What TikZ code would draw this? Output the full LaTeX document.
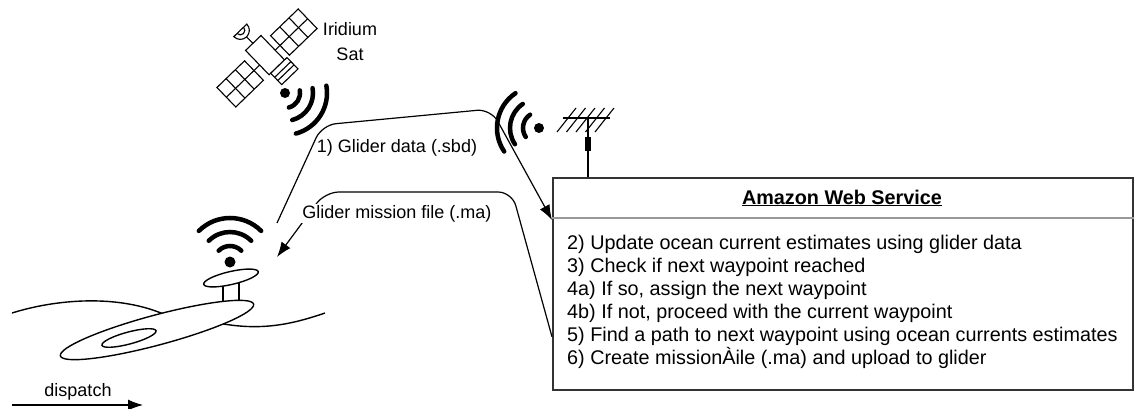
\documentclass[tikz,border=0pt]{standalone}
\usepackage{fontspec}
\setmainfont{Liberation Sans}
\usetikzlibrary{arrows.meta,calc,positioning}

\tikzset{
  link/.style={line width=1.2pt, rounded corners=14pt},
  tip/.style={-{Latex[length=15pt,width=11pt]}},
  wave/.style={line width=4.5pt, line cap=round},
  outline/.style={line width=1.4pt},
  lbl/.style={font=\fontsize{18}{23}\selectfont, inner sep=1pt},
  steptext/.style={font=\fontsize{19.8}{23}\selectfont, anchor=base west, inner sep=0pt},
}

\begin{document}
\begin{tikzpicture}[x=1pt,y=-1pt]
  \useasboundingbox (0,0) rectangle (1135,409);

  % satellite, drawn along its own axis
  \begin{scope}[shift={(267,58)},rotate=44,scale=1.13,line width=1.1pt]
    \foreach \s in {-1,1} {
      \draw (\s*16,-12) rectangle (\s*50,12);
      \draw (\s*16,0) -- (\s*50,0);
      \draw (\s*27.3,-12) -- (\s*27.3,12);
      \draw (\s*38.7,-12) -- (\s*38.7,12);
      \draw (\s*9,0) -- (\s*16,0);
    }
    \draw[fill=white] (-9,-18) rectangle (10,12);
    \draw[fill=white] (-7,12) rectangle (13,26);
    \draw (-7,17) -- (13,17);
    \draw (-7,21) -- (13,21);
    \draw (0,-18) -- (0,-26);
    \draw[fill=white] (-8,-34) arc[start angle=180, end angle=0, radius=8] -- cycle;
    \draw (-4,-34) arc[start angle=180, end angle=0, radius=4];
  \end{scope}
  \node[lbl, align=center, font=\fontsize{18}{25}\selectfont] (satname) at (350,42) {Iridium\\Sat};

  % downlink signal from the satellite
  \fill (285,93) circle[radius=5];
  \foreach \r in {15,28,42}
    \draw[wave] ([shift={(-10:\r)}]285,93) arc[start angle=-10, end angle=75, radius=\r];

  % ground antenna
  \coordinate (mast) at (588,118);
  \draw[line width=1.1pt] (563,118) -- (610,118);
  \foreach \k in {0,...,4}
    \draw[line width=1.1pt] (557+9.5*\k,132) -- (576+9.5*\k,108);
  \fill (539,128) circle[radius=5];
  \foreach \r in {16,29,42}
    \draw[wave] ([shift={(146:\r)}]539,128) arc[start angle=146, end angle=236, radius=\r];

  % cloud service box
  \node[draw=black!80, line width=1.8pt, minimum width=580pt, minimum height=212pt,
        anchor=north west, inner sep=0pt] (aws) at (552,177) {};
  \draw[line width=1.1pt] (mast) -- (mast |- aws.north);
  \fill (585,137) rectangle (591,151);
  \draw[black!40, line width=1.8pt] (aws.west |- 0,218) -- (aws.east |- 0,218);
  \node[font=\bfseries\fontsize{19.8}{23}\selectfont] (awstitle) at (842,198) {\underline{Amazon Web Service}};
  \foreach \txt [count=\i from 0] in {
      {2) Update ocean current estimates using glider data},
      {3) Check if next waypoint reached},
      {4a) If so, assign the next waypoint},
      {4b) If not, proceed with the current waypoint},
      {5) Find a path to next waypoint using ocean currents estimates},
      {6) Create missionÀile (.ma) and upload to glider}}
    \node[steptext] (step\i) at (567,249+23*\i) {\txt};

  % sea surface
  \draw[outline] (12,313) .. controls (60,298) and (125,294) .. (172,318);
  \draw[outline] (218,323) .. controls (260,331) and (290,325) .. (325,313);

  % glider
  \draw[outline] (223,280) -- (223,306);
  \draw[outline] (239,280) -- (239,305);
  \draw[outline, fill=white, rotate around={15:(157,330)}] (157,330) ellipse[x radius=100, y radius=15];
  \draw[outline, rotate around={15:(129,338)}] (129,338) ellipse[x radius=28, y radius=6];
  \draw[outline, fill=white, rotate around={13:(231,278)}] (231,278) ellipse[x radius=28, y radius=6.5];
  \fill (230,262) circle[radius=5.5];
  \foreach \r in {16,30,44}
    \draw[wave] ([shift={(-135:\r)}]230,262) arc[start angle=-135, end angle=-45, radius=\r];

  % data links
  \coordinate (glider-tx) at (277,223);
  \coordinate (glider-rx) at (277,257);
  \draw[link, tip] (glider-tx) -- (322,125) -- (491,109) -- ([yshift=-43pt]aws.north west);
  \draw[link, tip] ([yshift=54pt]aws.south west) -- (512,192) -- (325,192) -- (glider-rx);
  \node[lbl, anchor=base] (sbd) at (397,153) {1) Glider data (.sbd)};
  \node[lbl, anchor=base, fill=white] (ma) at (397,218) {Glider mission file (.ma)};

  % dispatch direction
  \coordinate (dispatch-from) at (12,405);
  \coordinate (dispatch-to) at (143,405);
  \draw[line width=1.2pt, tip] (dispatch-from) -- (dispatch-to);
  \node[lbl, anchor=base] (dispatch) at (78,396) {dispatch};
\end{tikzpicture}
\end{document}
